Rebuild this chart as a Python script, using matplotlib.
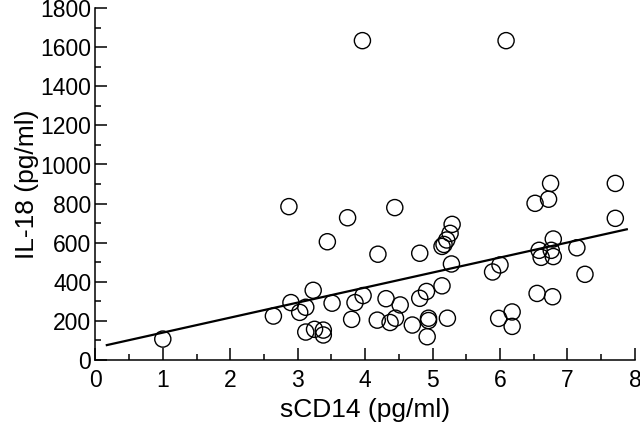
import numpy as np
import matplotlib
matplotlib.use("Agg")
import matplotlib.pyplot as plt
from matplotlib.ticker import MultipleLocator

plt.rcParams['font.family'] = ['Liberation Sans', 'DejaVu Sans']

# sCD14 (pg/ml) and IL-18 (pg/ml)
scd14 = [1.00, 2.64, 2.87, 2.90, 3.03, 3.12, 3.23, 3.12, 3.25, 3.38, 3.38,
         3.44, 3.51, 3.74, 3.80, 3.85, 3.97, 3.96, 4.19, 4.18, 4.31, 4.37,
         4.45, 4.44, 4.52, 4.70, 4.81, 4.81, 4.91, 4.94, 4.94, 4.92, 5.14,
         5.22, 5.14, 5.17, 5.21, 5.26, 5.29, 5.28, 5.89, 6.00, 5.98, 6.18,
         6.18, 6.09, 6.52, 6.72, 6.75, 6.55, 6.78, 6.58, 6.61, 6.79, 6.76,
         6.79, 7.14, 7.26, 7.71, 7.71]
il18 = [105, 223, 784, 292, 242, 268, 355, 141, 155, 151, 126,
        604, 289, 727, 206, 292, 328, 1635, 540, 202, 312, 190,
        212, 779, 280, 177, 545, 314, 349, 212, 200, 117, 378,
        212, 580, 590, 613, 647, 693, 490, 449, 485, 211, 244,
        170, 1635, 801, 822, 903, 339, 322, 560, 524, 618, 560,
        528, 573, 437, 903, 724]

# regression line
fit_slope = 77.0
fit_intercept = 61.0
fit_x = [0.17, 7.88]

fig = plt.figure(figsize=(6.4, 4.23), dpi=100)
ax = fig.add_axes([0.149, 0.150, 0.843, 0.830])

ax.scatter(scd14, il18, s=135, facecolors='none', edgecolors='black',
           linewidths=1.0, zorder=3)
fx = np.array(fit_x)
ax.plot(fx, fit_slope * fx + fit_intercept, color='black', lw=1.6, zorder=4)

ax.set_xlim(0, 8)
ax.set_ylim(0, 1800)
ax.xaxis.set_major_locator(MultipleLocator(1))
ax.xaxis.set_minor_locator(MultipleLocator(0.5))
ax.yaxis.set_major_locator(MultipleLocator(200))
ax.yaxis.set_minor_locator(MultipleLocator(100))

for s in ['top', 'right']:
    ax.spines[s].set_visible(False)
for s in ['left', 'bottom']:
    ax.spines[s].set_linewidth(1.1)

ax.tick_params(which='major', direction='in', length=8.5, width=1.1,
               labelsize=16.5, pad=3)
ax.tick_params(axis='x', which='major', pad=7)
ax.tick_params(which='minor', direction='in', length=4.5, width=1.1)

ax.set_xlabel('sCD14 (pg/ml)', fontsize=19, labelpad=4)
ax.set_ylabel('IL-18 (pg/ml)', fontsize=19, labelpad=1)

fig.savefig('out.png', dpi=100)
